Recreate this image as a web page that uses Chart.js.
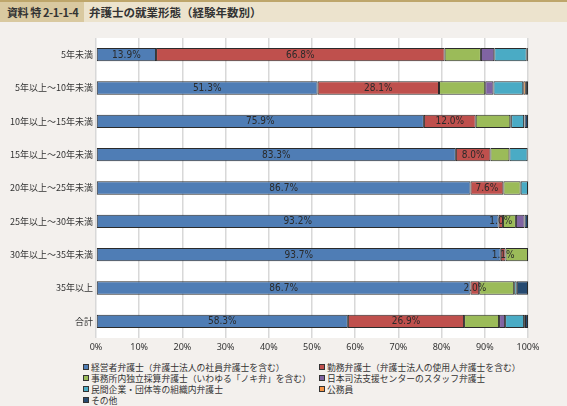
<!DOCTYPE html>
<html>
<head>
<meta charset="utf-8">
<script src="https://cdn.jsdelivr.net/npm/chart.js@4.4.1/dist/chart.umd.min.js"></script>
<style>
    html, body { margin: 0; padding: 0; }
    body {
        width: 567px; height: 406px; overflow: hidden; position: relative;
        background: #f3f0ed;
        font-family: "Noto Sans CJK JP", "Noto Sans", sans-serif;
        color: #333;
    }
    .titlebar {
        position: absolute; left: 0; top: 0; width: 567px; height: 20px;
        background: #ece3cd; border-top: 2px solid #bea66b;
    }
    .titlebar .tag {
        position: absolute; left: 0; top: 0; height: 20px; width: 84px;
        background: #d9c9a0; font-weight: bold; font-size: 11px;
        line-height: 20px; padding-left: 7px; box-sizing: border-box;
        white-space: nowrap; letter-spacing: -0.4px;
    }
    .titlebar .name {
        position: absolute; left: 89px; top: 0; font-weight: bold;
        font-size: 11.5px; line-height: 20px; white-space: nowrap;
    }
    .chart-box { position: absolute; left: 0; top: 22px; width: 567px; height: 338px; }
    .legend { position: absolute; font-size: 8.8px; line-height: 11px; color: #333; white-space: nowrap; }
    .legend span.sq {
        display: inline-block; width: 4px; height: 4px; border: 1px solid #333;
        margin-right: 2px; vertical-align: 1px;
    }
</style>
</head>
<body>
<div class="titlebar">
    <div class="tag">資料 特 2-1-1-4</div>
    <div class="name">弁護士の就業形態（経験年数別）</div>
</div>
<div class="chart-box"><canvas id="lawyerChart"></canvas></div>
<div class="legend" id="legendLeft" style="left:83px; top:362px;"></div>
<div class="legend" id="legendRight" style="left:319px; top:362px;"></div>

<script>
// categories (experience years)
const categories = ['5年未満', '5年以上～10年未満', '10年以上～15年未満', '15年以上～20年未満',
    '20年以上～25年未満', '25年以上～30年未満', '30年以上～35年未満', '35年以上', '合計'];

// series values (%)
const keieisha   = [13.9, 51.3, 75.9, 83.3, 86.7, 93.2, 93.7, 86.7, 58.3];
const kinmu      = [66.8, 28.1, 12.0,  8.0,  7.6,  1.0,  1.1,  2.0, 26.9];
const dokuritsu  = [ 8.4, 10.7,  8.0,  4.4,  4.0,  3.0,  5.2,  8.1,  8.1];
const houterasu  = [ 3.1,  1.9,  0.2,  0.0,  0.0,  2.0,  0.0,  0.0,  1.4];
const soshikinai = [ 7.5,  6.9,  3.0,  4.2,  1.7,  0.0,  0.0,  0.6,  4.4];
const koumuin    = [ 0.1,  0.6,  0.1,  0.0,  0.0,  0.0,  0.0,  0.0,  0.2];
const sonota     = [ 0.2,  0.5,  0.8,  0.1,  0.0,  0.8,  0.0,  2.6,  0.7];

const seriesNames = [
    '経営者弁護士（弁護士法人の社員弁護士を含む）',
    '勤務弁護士（弁護士法人の使用人弁護士を含む）',
    '事務所内独立採算弁護士（いわゆる「ノキ弁」を含む）',
    '日本司法支援センターのスタッフ弁護士',
    '民間企業・団体等の組織内弁護士',
    '公務員',
    'その他'
];
const seriesData = [keieisha, kinmu, dokuritsu, houterasu, soshikinai, koumuin, sonota];
const seriesColors = ['#4f7db5', '#bf504d', '#9bbb59', '#8064a2', '#4aabc5', '#f79646', '#274b72'];

// x axis tick labels
const xTicks = ['0%', '10%', '20%', '30%', '40%', '50%', '60%', '70%', '80%', '90%', '100%'];

document.addEventListener('DOMContentLoaded', function() {
    const ctx = document.getElementById('lawyerChart').getContext('2d');

    // white plot background
    const plotBg = {
        id: 'plotBg',
        beforeDraw(chart) {
            const a = chart.chartArea;
            chart.ctx.save();
            chart.ctx.fillStyle = '#ffffff';
            chart.ctx.fillRect(a.left, a.top, a.right - a.left, a.bottom - a.top);
            chart.ctx.restore();
        }
    };

    // value labels on the first two series
    const valueLabels = {
        id: 'valueLabels',
        afterDatasetsDraw(chart) {
            const c = chart.ctx;
            c.save();
            c.font = '10px "Liberation Sans Narrow", "DejaVu Sans Condensed", sans-serif';
            c.fillStyle = '#2a2a2a';
            c.textAlign = 'center';
            c.textBaseline = 'middle';
            [0, 1].forEach(di => {
                chart.getDatasetMeta(di).data.forEach((bar, i) => {
                    const v = chart.data.datasets[di].data[i];
                    c.fillText(v.toFixed(1) + '%', (bar.x + bar.base) / 2, bar.y + 0.5);
                });
            });
            c.restore();
        }
    };

    new Chart(ctx, {
        type: 'bar',
        data: {
            labels: categories,
            datasets: seriesData.map((d, i) => ({
                label: seriesNames[i],
                data: d,
                backgroundColor: seriesColors[i],
                borderColor: '#2b2b2b',
                borderWidth: 1,
                borderSkipped: false,
                categoryPercentage: 1,
                barPercentage: 0.4
            }))
        },
        options: {
            indexAxis: 'y',
            responsive: true,
            maintainAspectRatio: false,
            animation: false,
            layout: { padding: { top: 16, right: 39, bottom: 0, left: 0 } },
            plugins: {
                legend: { display: false },
                tooltip: { enabled: false }
            },
            scales: {
                x: {
                    stacked: true,
                    min: 0,
                    max: 100,
                    grid: { color: '#d8d8d8', lineWidth: 1.5, drawTicks: false },
                    border: { display: false },
                    afterFit: function(scale) { scale.height = 22; },
                    ticks: {
                        stepSize: 10,
                        padding: 4,
                        color: '#333',
                        font: { size: 9, family: '"Liberation Sans Narrow", "Noto Sans", sans-serif' },
                        callback: (v, i) => xTicks[i]
                    }
                },
                y: {
                    stacked: true,
                    grid: { display: false, drawTicks: false },
                    border: { display: false },
                    afterFit: function(scale) { scale.width = 96; },
                    ticks: {
                        padding: 3,
                        color: '#333',
                        font: { size: 9, family: '"Noto Sans CJK JP", sans-serif' }
                    }
                }
            }
        },
        plugins: [plotBg, valueLabels]
    });

    // html legend in two columns
    const left = document.getElementById('legendLeft');
    const right = document.getElementById('legendRight');
    seriesNames.forEach((name, i) => {
        const row = document.createElement('div');
        row.innerHTML = '<span class="sq" style="background:' + seriesColors[i] + '"></span>' + name;
        (i % 2 === 0 ? left : right).appendChild(row);
    });
});
</script>
</body>
</html>
